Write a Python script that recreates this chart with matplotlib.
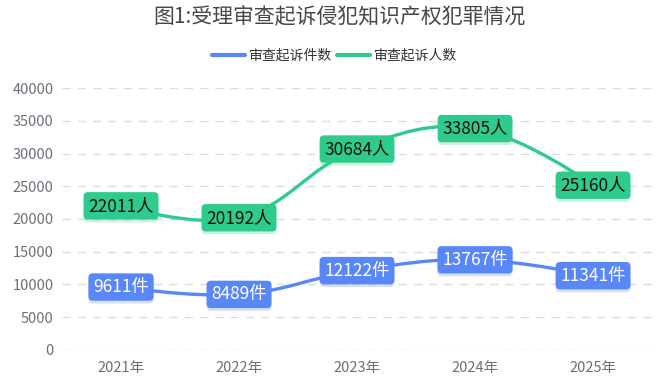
import numpy as np
import matplotlib.pyplot as plt
import matplotlib.patheffects as pe
from matplotlib.path import Path
from matplotlib.patches import PathPatch
from matplotlib.lines import Line2D

plt.rcParams['font.family'] = ['Noto Sans CJK SC', 'DejaVu Sans']

years = ['2021年', '2022年', '2023年', '2024年', '2025年']
cases = [9611, 8489, 12122, 13767, 11341]
people = [22011, 20192, 30684, 33805, 25160]
series_names = ['审查起诉件数', '审查起诉人数']
title = '图1:受理审查起诉侵犯知识产权犯罪情况'

blue = '#5A87F8'
green = '#2ECB8C'


def smooth_path(ax, xs, ys, s=0.4):
    # bezier curve through the points, control points worked out in pixels
    pts = ax.transData.transform(np.column_stack([xs, ys]).astype(float))
    n = len(pts)
    cps = []
    for i in range(n):
        if i == 0 or i == n - 1:
            cps.append((pts[i], pts[i]))
            continue
        v = pts[i + 1] - pts[i - 1]
        d0 = np.hypot(*(pts[i] - pts[i - 1]))
        d1 = np.hypot(*(pts[i + 1] - pts[i]))
        cps.append((pts[i] - v * s * d0 / (d0 + d1),
                    pts[i] + v * s * d1 / (d0 + d1)))
    verts = [pts[0]]
    codes = [Path.MOVETO]
    for i in range(n - 1):
        verts += [cps[i][1], cps[i + 1][0], pts[i + 1]]
        codes += [Path.CURVE4] * 3
    verts = ax.transData.inverted().transform(np.array(verts))
    return Path(verts, codes)


fig = plt.figure(figsize=(6.69, 3.83), dpi=100)
ax = fig.add_axes([0.0927, 0.0862, 0.882, 0.684])

x = np.arange(len(years))
ax.set_xlim(-0.5, len(years) - 0.5)
ax.set_ylim(0, 40000)

for vals, col in [(cases, blue), (people, green)]:
    ax.add_patch(PathPatch(smooth_path(ax, x, vals), facecolor='none',
                           edgecolor=col, lw=2.4, capstyle='round', zorder=3))

for vals, unit, fc, tc in [(people, '人', green, '#111111'),
                           (cases, '件', blue, 'white')]:
    for xi, v in zip(x, vals):
        t = ax.text(xi, v, f'{v}{unit}', ha='center', va='center',
                    fontsize=12.5, color=tc, zorder=5,
                    bbox=dict(boxstyle='round,pad=0.27,rounding_size=0.25',
                              fc=fc, ec='none'))
        t.get_bbox_patch().set_path_effects(
            [pe.SimplePatchShadow(offset=(0, -2), shadow_rgbFace=fc, alpha=0.25),
             pe.Normal()])

ax.set_yticks(np.arange(0, 40001, 5000))
ax.set_xticks(x)
ax.set_xticklabels(years)
ax.grid(axis='y', color='#DDDDDD', ls=(0, (6, 5)), lw=1)
ax.set_axisbelow(True)
for sp in ax.spines.values():
    sp.set_visible(False)
ax.tick_params(length=0, labelsize=10.5, colors='#6E7079')
ax.tick_params(axis='x', pad=8)
ax.tick_params(axis='y', pad=6)

fig.text(0.508, 0.956, title, ha='center', va='center', fontsize=15,
         color='#464646')

handles = [Line2D([], [], color=blue, lw=3, solid_capstyle='round'),
           Line2D([], [], color=green, lw=3, solid_capstyle='round')]
fig.legend(handles, series_names, loc='center', bbox_to_anchor=(0.5, 0.855),
           ncol=2, frameon=False, fontsize=10, handlelength=2.4,
           handletextpad=0.3, columnspacing=0.3, labelcolor='#333333')

fig.savefig('out.png', dpi=100)
